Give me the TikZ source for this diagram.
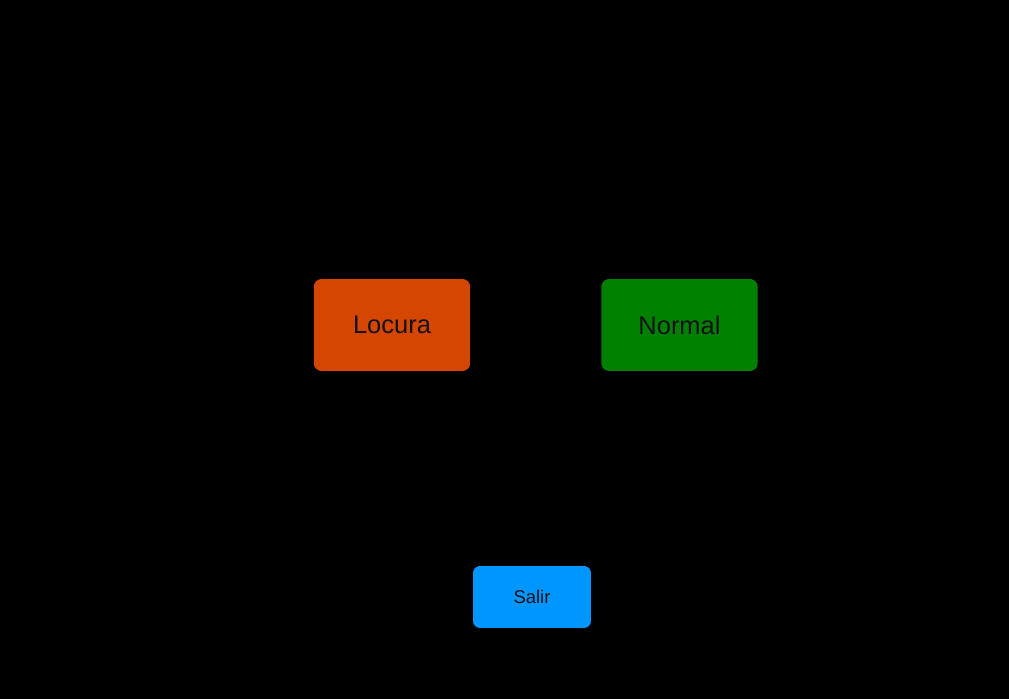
\documentclass[tikz,border=0pt]{standalone}
\usepackage{fontspec}
\setmainfont{Liberation Sans}
\usepackage{tikz}
\usetikzlibrary{positioning}
\definecolor{locuracolor}{RGB}{213,71,0}
\definecolor{normalcolor}{RGB}{0,128,0}
\definecolor{salircolor}{RGB}{0,150,255}
\definecolor{textdark}{RGB}{18,18,24}

\begin{document}
\begin{tikzpicture}[
    x=0.02cm, y=-0.02cm,
    modebox/.style={rounded corners=4.5pt, minimum width=3.13cm, minimum height=1.84cm, inner sep=0pt, font=\fontsize{14.5}{17}\selectfont, text=textdark, align=center},
    exitbox/.style={rounded corners=4pt, minimum width=2.36cm, minimum height=1.24cm, inner sep=0pt, font=\fontsize{10.5}{13}\selectfont, text=textdark, align=center}
]
    % Background
    \fill[black] (0,0) rectangle (1009,699);

    % Mode buttons
    \node[modebox, fill=locuracolor] (locura) at (392,325) {Locura};
    \node[modebox, fill=normalcolor] (normal) at (679.5,325) {Normal};

    % Exit button
    \node[exitbox, fill=salircolor] (salir) at (532,597) {Salir};
\end{tikzpicture}
\end{document}
